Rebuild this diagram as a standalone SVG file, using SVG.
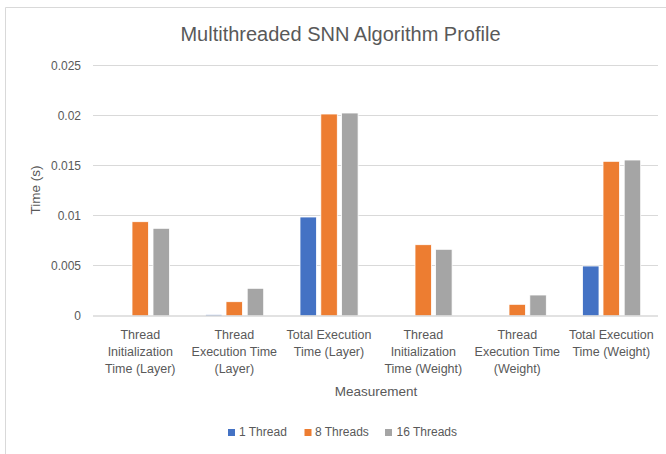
<svg xmlns="http://www.w3.org/2000/svg" width="666" height="454" viewBox="0 0 666 454">
<style>
text{font-family:"Liberation Sans",Arial,sans-serif;fill:#595959}
.grid{stroke:#D9D9D9;stroke-width:1;fill:none}
.axis{stroke:#D9D9D9;stroke-width:1.5;fill:none}
.tick{font-size:12px;text-anchor:end}
.cat{font-size:12.5px;text-anchor:middle}
.leg{font-size:12px}
.b1{fill:#4472C4;stroke:#fff;stroke-width:0.8}
.b8{fill:#ED7D31;stroke:#fff;stroke-width:0.8}
.b16{fill:#A5A5A5;stroke:#fff;stroke-width:0.8}
</style>
<rect x="0" y="0" width="666" height="454" fill="#fff"/>
<path d="M5.5,454 V7.5 H666" fill="none" stroke="#D9D9D9" stroke-width="1"/>
<g id="title"><text x="340.5" y="41" font-size="20" text-anchor="middle">Multithreaded SNN Algorithm Profile</text></g>
<g id="gridlines">
<line class="grid" x1="93" y1="65.5" x2="658" y2="65.5"/>
<line class="grid" x1="93" y1="115.5" x2="658" y2="115.5"/>
<line class="grid" x1="93" y1="165.5" x2="658" y2="165.5"/>
<line class="grid" x1="93" y1="215.5" x2="658" y2="215.5"/>
<line class="grid" x1="93" y1="265.5" x2="658" y2="265.5"/>
</g>
<g id="y-axis">
<text class="tick" x="81" y="69.5">0.025</text>
<text class="tick" x="81" y="119.5">0.02</text>
<text class="tick" x="81" y="169.5">0.015</text>
<text class="tick" x="81" y="219.5">0.01</text>
<text class="tick" x="81" y="269.5">0.005</text>
<text class="tick" x="81" y="320">0</text>
<text x="39.5" y="190" font-size="13.5" text-anchor="middle" transform="rotate(-90 39.5 190)">Time (s)</text>
</g>
<g id="bars">
<rect class="b8" x="132" y="221.7" width="16.5" height="94.3"/>
<rect class="b16" x="153" y="228.3" width="16.5" height="87.7"/>
<rect class="b1" x="205.5" y="314.5" width="16.5" height="1.5"/>
<rect class="b8" x="226" y="301.7" width="16.5" height="14.3"/>
<rect class="b16" x="247.2" y="288.3" width="16.5" height="27.7"/>
<rect class="b1" x="300" y="217" width="16.5" height="99"/>
<rect class="b8" x="320.8" y="114" width="16.5" height="202"/>
<rect class="b16" x="341.6" y="113" width="16.5" height="203"/>
<rect class="b8" x="415" y="244.7" width="16.5" height="71.3"/>
<rect class="b16" x="435.6" y="249.3" width="16.5" height="66.7"/>
<rect class="b8" x="509" y="304.3" width="16.5" height="11.7"/>
<rect class="b16" x="529.8" y="295" width="16.5" height="21"/>
<rect class="b1" x="582.5" y="266" width="16.5" height="50"/>
<rect class="b8" x="603" y="161.3" width="16.5" height="154.7"/>
<rect class="b16" x="624.2" y="160" width="16.5" height="156"/>
</g>
<g id="x-axis">
<line class="axis" x1="93" y1="316" x2="658" y2="316"/>
<text class="cat" x="140.3" y="338.5">Thread<tspan x="140.3" dy="17">Initialization</tspan><tspan x="140.3" dy="17">Time (Layer)</tspan></text>
<text class="cat" x="234.3" y="338.5">Thread<tspan x="234.3" dy="17">Execution Time</tspan><tspan x="234.3" dy="17">(Layer)</tspan></text>
<text class="cat" x="329" y="338.5">Total Execution<tspan x="329" dy="17">Time (Layer)</tspan></text>
<text class="cat" x="423.3" y="338.5">Thread<tspan x="423.3" dy="17">Initialization</tspan><tspan x="423.3" dy="17">Time (Weight)</tspan></text>
<text class="cat" x="517.3" y="338.5">Thread<tspan x="517.3" dy="17">Execution Time</tspan><tspan x="517.3" dy="17">(Weight)</tspan></text>
<text class="cat" x="611.3" y="338.5">Total Execution<tspan x="611.3" dy="17">Time (Weight)</tspan></text>
<text x="376" y="396" font-size="13.5" text-anchor="middle">Measurement</text>
</g>
<g id="legend">
<rect x="228" y="429" width="7" height="7" fill="#4472C4"/>
<text class="leg" x="239" y="436">1 Thread</text>
<rect x="304.5" y="429" width="7" height="7" fill="#ED7D31"/>
<text class="leg" x="315" y="436">8 Threads</text>
<rect x="385" y="429" width="7" height="7" fill="#A5A5A5"/>
<text class="leg" x="396.5" y="436">16 Threads</text>
</g>
</svg>
